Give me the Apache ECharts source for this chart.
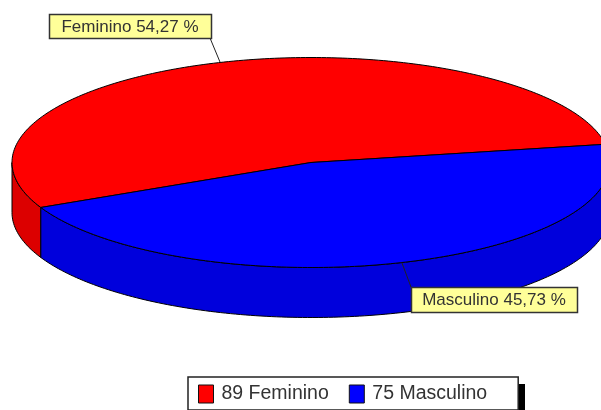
<!DOCTYPE html>
<html>
<head>
<meta charset="utf-8">
<style>
  html, body { margin: 0; padding: 0; background: #fff; overflow: hidden; }
  #chart { width: 601px; height: 410px; }
</style>
<script src="https://cdn.jsdelivr.net/npm/echarts@6/dist/echarts.min.js"></script>
</head>
<body>
<div id="chart"></div>
<script>
// --- Data ---
const categories = ["Feminino", "Masculino"];
const counts = [89, 75];

// --- Styles ---
const topColors = ["#ff0000", "#0000ff"];
const sideColors = ["#dc0000", "#0000dc"];
const labelBoxes = [[49, 14, 162, 24], [411, 287, 166, 25]];
const FONT = '"Liberation Sans", Arial, sans-serif';

// --- Pie geometry (ellipse in screen pixels, angles in degrees, counter-clockwise) ---
const cx = 311, cy = 162.5, rx = 299, ry = 105, depth = 50;
const startAngle = 10;
const total = counts.reduce((a, b) => a + b, 0);

function rimPoint(deg, dy = 0) {
  const a = (deg * Math.PI) / 180;
  return [cx + rx * Math.cos(a), cy - ry * Math.sin(a) + dy];
}

function arcPoints(from, to, dy = 0) {
  const pts = [];
  for (let d = from; d <= to; d += 1) pts.push(rimPoint(d, dy));
  pts.push(rimPoint(to, dy));
  return pts;
}

function sliceRange(i) {
  const before = counts.slice(0, i).reduce((a, b) => a + b, 0);
  return [startAngle + (before / total) * 360, startAngle + ((before + counts[i]) / total) * 360];
}

const edge = { stroke: "#000", lineWidth: 1 };

/** Top face, visible side wall (lower half of the ellipse only), label and leader for slice i. */
function renderSlice(i) {
  const [from, to] = sliceRange(i);
  const children = [];

  // side wall
  const lo = Math.max(from, 180), hi = Math.min(to, 360);
  if (hi > lo) {
    const upper = arcPoints(lo, hi);
    const lower = arcPoints(lo, hi, depth).reverse();
    children.push({
      type: "polygon",
      shape: { points: upper.concat(lower) },
      style: { fill: sideColors[i], ...edge },
    });
  }

  // top face
  children.push({
    type: "polygon",
    shape: { points: [[cx, cy]].concat(arcPoints(from, to)) },
    style: { fill: topColors[i], ...edge },
  });
  return { type: "group", children };
}

/** Drawn last so the callouts sit over both slices. */
function renderLabel(i) {
  const [from, to] = sliceRange(i);
  const [x, y, w, h] = labelBoxes[i];
  const anchor = rimPoint((from + to) / 2);
  const end = i === 0 ? [x + w - 1, y + h] : [x, y];
  const pct = ((counts[i] / total) * 100).toFixed(2).replace(".", ",");
  return {
    type: "group",
    children: [
      { type: "line", shape: { x1: anchor[0], y1: anchor[1], x2: end[0], y2: end[1] }, style: { stroke: "#222", lineWidth: 1 } },
      { type: "rect", shape: { x: x + 0.5, y: y + 0.5, width: w, height: h }, style: { fill: "#ffff99", stroke: "#333", lineWidth: 1.5 } },
      {
        type: "text",
        style: {
          x: x + w / 2,
          y: y + h / 2 + 1,
          text: `${categories[i]} ${pct} %`,
          align: "center",
          verticalAlign: "middle",
          fill: "#333",
          font: `17px ${FONT}`,
        },
      },
    ],
  };
}

// --- Chart ---
const chart = echarts.init(document.getElementById("chart"), null, { renderer: "canvas" });

const sliceSeries = categories.map((name, i) => ({
  type: "custom",
  name,
  coordinateSystem: "none",
  silent: true,
  animation: false,
  itemStyle: { color: topColors[i] },
  data: [counts[i]],
  renderItem: () => renderSlice(i),
}));

const labelSeries = {
  type: "custom",
  coordinateSystem: "none",
  silent: true,
  animation: false,
  data: categories.map((_, i) => i),
  renderItem: (params) => renderLabel(params.dataIndex),
};

chart.setOption({
  animation: false,
  // hard drop shadow behind the legend box
  graphic: [{ type: "rect", z: 0, silent: true, shape: { x: 194, y: 384, width: 331, height: 30 }, style: { fill: "#000" } }],
  legend: {
    left: 188,
    top: 377,
    orient: "horizontal",
    data: categories,
    icon: "rect",
    itemWidth: 15,
    itemHeight: 18,
    itemGap: 20,
    padding: [7, 31, 6, 10],
    backgroundColor: "#fff",
    borderColor: "#222",
    borderWidth: 1.5,
    borderRadius: 0,
    itemStyle: { borderColor: "#111", borderWidth: 1 },
    selectedMode: false,
    formatter: (name) => `${counts[categories.indexOf(name)]} ${name}`,
    textStyle: { color: "#333", fontSize: 19.5, fontFamily: FONT, padding: [0, 0, 0, 3] },
  },
  series: [...sliceSeries, labelSeries],
});
</script>
</body>
</html>
